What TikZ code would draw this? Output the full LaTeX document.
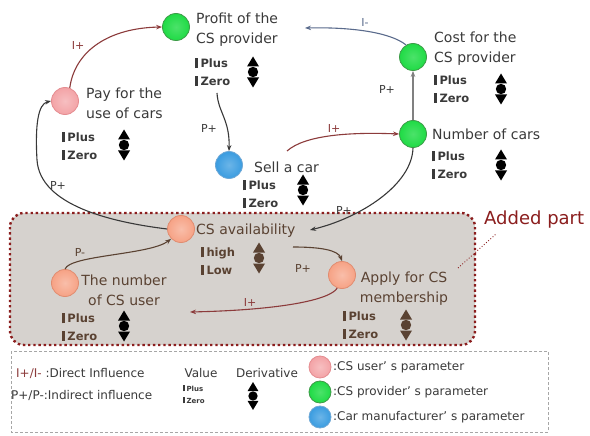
\documentclass[tikz,border=0pt]{standalone}
\usepackage{fontspec}
\setmainfont{DejaVu Sans}
\usetikzlibrary{arrows.meta}
\definecolor{drd}{HTML}{8C3B3B}
\definecolor{cimi}{HTML}{5A6B8C}
\definecolor{pcol}{HTML}{383838}
\definecolor{txt}{HTML}{3A3A3A}
\definecolor{btxt}{HTML}{5A4232}
\definecolor{boxfill}{HTML}{D6D2CE}
\definecolor{boxline}{HTML}{8B1E1E}
\definecolor{cpink}{HTML}{F3A3A6}
\definecolor{cpinkd}{HTML}{E58C90}
\definecolor{corg}{HTML}{F6A285}
\definecolor{corgd}{HTML}{E08C70}
\definecolor{cgreen}{HTML}{1FDB45}
\definecolor{cgreend}{HTML}{3E9A48}
\definecolor{cblue}{HTML}{3A9CE0}
\definecolor{cblued}{HTML}{6FA8D6}
\newcommand\vb{\rule[-0.3pt]{2.8pt}{10pt}\hspace{2.5pt}}
\newcommand\svb{\rule[-0.2pt]{1.8pt}{6.5pt}\hspace{1.5pt}}
\newcommand\derivsym[4][1]{%
  \begin{scope}[shift={(#2,#3)},scale=#1]
    \fill[#4] (0,-15.5) -- (-6,-5.5) -- (6,-5.5) -- cycle;
    \fill[#4] (0,0) circle[radius=5.2];
    \fill[#4] (0,15.5) -- (-6,5.5) -- (6,5.5) -- cycle;
  \end{scope}}
\tikzset{
  cnode/.style={circle, minimum size=27pt, inner sep=0pt, line width=0.8pt},
  upink/.style={cnode, shading=radial, inner color=cpink!70!white, outer color=cpink, draw=cpinkd},
  uorg/.style={cnode, shading=radial, inner color=corg!70!white, outer color=corg, draw=corgd},
  pgreen/.style={cnode, shading=radial, inner color=cgreen!80!white, outer color=cgreen, draw=cgreend},
  mblue/.style={cnode, shading=radial, inner color=cblue!75!white, outer color=cblue, draw=cblued},
  lbl/.style={inner sep=0pt, align=left, text=txt, font=\fontsize{14}{20}\selectfont},
  inbox/.style={text=btxt},
  vals/.style={inner sep=0pt, align=left, text=txt, font=\bfseries\fontsize{11.5}{17.5}\selectfont},
  arr/.style={line width=1.1pt, -{Stealth[length=6pt,width=4.5pt]}},
  ipl/.style={arr, draw=drd},
  imi/.style={arr, draw=cimi},
  pp/.style={arr, draw=pcol},
  ppg/.style={arr, draw=gray},
  ppb/.style={arr, draw=btxt},
  tag/.style={inner sep=0pt, font=\fontsize{11}{11}\selectfont},
  legt/.style={inner sep=0pt, text=txt, font=\fontsize{12}{12}\selectfont},
  lsize/.style={minimum size=22pt},
}
\begin{document}
\begin{tikzpicture}[x=1pt,y=-1pt]
\useasboundingbox (0,0) rectangle (590,436);
\fill[white] (0,0) rectangle (590,436);

% added part box
\filldraw[fill=boxfill, draw=boxline, line width=2.4pt, dash pattern=on 2.4pt off 2.8pt, rounded corners=14pt]
  (10,213) rectangle (475,345);

% legend box
\draw[gray!70, densely dashed, line width=0.7pt] (11,351) rectangle (548,432);

% parameter nodes
\node[pgreen] (prof) at (176,27) {};
\node[upink] (pay) at (65,101) {};
\node[mblue] (sell) at (229,165) {};
\node[pgreen] (cost) at (413,57) {};
\node[pgreen] (num) at (413,134) {};
\node[uorg] (avail) at (181,229) {};
\node[uorg] (user) at (65,283) {};
\node[uorg] (apply) at (342,275) {};

% labels
\node[lbl, anchor=west] (profl) at (196,30) {Profit of the\\CS provider};
\node[lbl, anchor=west] (payl) at (86,103) {Pay for the\\use of cars};
\node[lbl, anchor=west] (selll) at (254,167) {Sell a car};
\node[lbl, anchor=west] (costl) at (434,49) {Cost for the\\CS provider};
\node[lbl, anchor=west] (numl) at (432,134) {Number of cars};
\node[lbl, inbox, anchor=west] (availl) at (196,231) {CS availability};
\node[lbl, inbox, align=center] (userl) at (124,290) {The number\\of CS user};
\node[lbl, inbox, align=center] (applyl) at (404,289) {Apply for CS\\membership};

% values
\node[vals, anchor=west] (profv) at (195,72) {\vb Plus\\\vb Zero};
\node[vals, anchor=west] (payv) at (62,146) {\vb Plus\\\vb Zero};
\node[vals, anchor=west] (sellv) at (243,194) {\vb Plus\\\vb Zero};
\node[vals, anchor=west] (costv) at (434,89) {\vb Plus\\\vb Zero};
\node[vals, anchor=west] (numv) at (432,165) {\vb Plus\\\vb Zero};
\node[vals, inbox, anchor=west] (availv) at (201,261) {\vb high\\\vb Low};
\node[vals, inbox, anchor=west] (userv) at (62,327) {\vb Plus\\\vb Zero};
\node[vals, inbox, anchor=west] (applyv) at (343,325) {\vb Plus\\\vb Zero};

% derivative symbols
\derivsym{253}{72}{black}
\derivsym{124}{145}{black}
\derivsym{303}{190}{black}
\derivsym{501}{89}{black}
\derivsym{501}{165}{black}
\derivsym{259}{258}{btxt}
\derivsym{124}{326}{black}
\derivsym{406}{325}{btxt}

% free ends
\coordinate (iminusend) at (305,28);
\coordinate (profout) at (217,93);
\coordinate (sellout) at (287,151);
\coordinate (availin) at (310,230);
\coordinate (availout) at (293,247);
\coordinate (userin) at (190,312);
\coordinate (mid1) at (37,160);

% connectors
\draw[ipl] (pay.70) .. controls (75,50) and (110,28) .. (prof.west);
\node[tag, text=drd] (t1) at (78,45) {I+};
\draw[imi] (cost.120) .. controls (390,32) and (350,27) .. (iminusend);
\node[tag, text=cimi] (t2) at (365,22) {I-};
\draw[pp] (profout) .. controls (218,112) and (230,120) .. (sell.north);
\node[tag, text=txt] (t3) at (209,128) {P+};
\draw[ipl] (sellout) .. controls (305,135) and (350,132) .. (num.west);
\node[tag, text=drd] (t4) at (334,128) {I+};
\draw[ppg] (num.north) -- (cost.south);
\node[tag, text=txt] (t5) at (387,89) {P+};
\draw[pp] (num.south) .. controls (412,185) and (360,218) .. (availin);
\node[tag, text=txt] (t6) at (344,210) {P+};
\draw[pp] (avail.west) .. controls (110,222) and (40,205) .. (mid1)
  .. controls (35,125) and (38,104) .. (pay.west);
\node[tag, text=txt] (t7) at (58,185) {P+};
\draw[ppb] (user.north) .. controls (70,255) and (150,255) .. (avail.225);
\node[tag, text=btxt] (t8) at (80,252) {P-};
\draw[ppb] (availout) .. controls (320,247) and (338,250) .. (apply.north);
\node[tag, text=btxt] (t9) at (303,268) {P+};
\draw[ipl] (apply.250) .. controls (330,300) and (280,310) .. (userin);
\node[tag, text=drd] (t10) at (250,302) {I+};

% added part label
\node[inner sep=0pt, anchor=west, text=boxline, font=\fontsize{18}{18}\selectfont] (added) at (484,220) {Added part};
\coordinate (lead1) at (458,268);
\coordinate (lead2) at (496,234);
\draw[boxline, dotted, line width=0.9pt] (lead1) -- (lead2);

% legend
\node[legt, anchor=west] (lg1) at (16,373) {\textcolor{drd}{I+/I-} :Direct Influence};
\node[legt, anchor=west] (lg2) at (11,395) {P+/P-:Indirect influence};
\node[legt] (lgv) at (201,373) {Value};
\node[legt] (lgd) at (267,373) {Derivative};
\node[vals, anchor=west, font=\bfseries\fontsize{7}{12}\selectfont] (lgvals) at (183,394) {\svb Plus\\\svb Zero};
\derivsym[0.9]{253}{396}{black}
\node[upink, lsize] (lgp) at (320,367) {};
\node[pgreen, lsize] (lgg) at (320,392) {};
\node[mblue, lsize] (lgb) at (320,417) {};
\node[legt, anchor=west] (lgpt) at (333,367) {:CS user’ s parameter};
\node[legt, anchor=west] (lggt) at (333,392) {:CS provider’ s parameter};
\node[legt, anchor=west] (lgbt) at (333,417) {:Car manufacturer’ s parameter};
\end{tikzpicture}
\end{document}
